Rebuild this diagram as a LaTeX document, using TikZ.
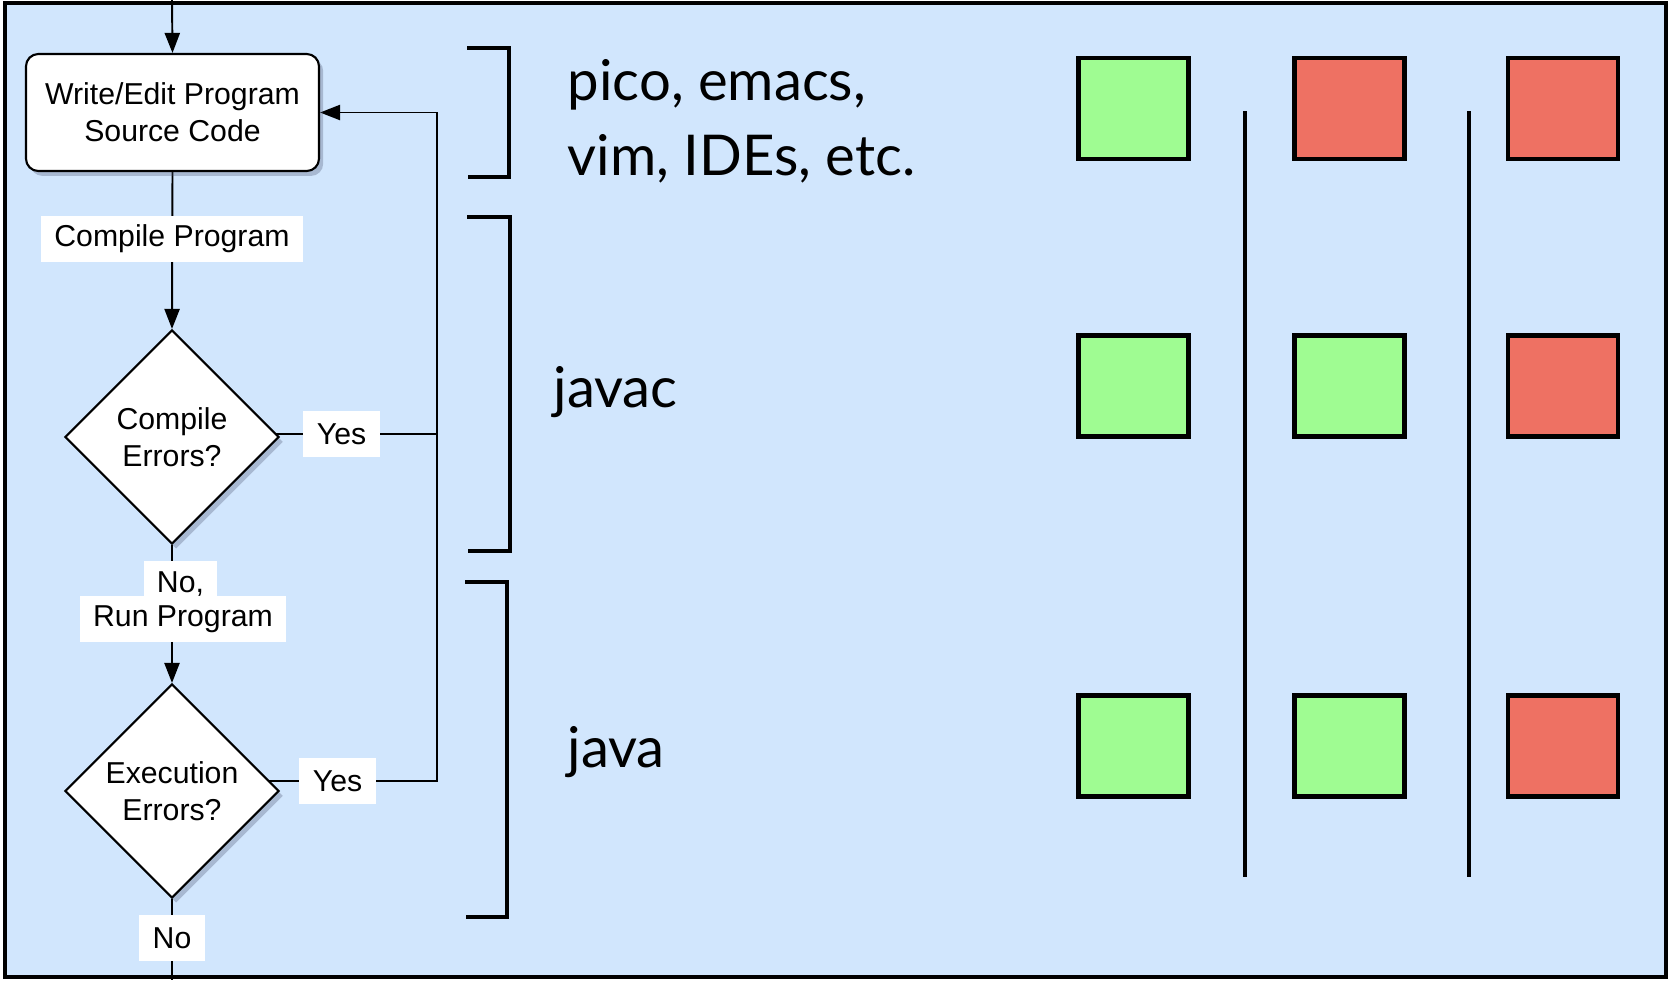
\documentclass[tikz,border=0pt]{standalone}
\usepackage{fontspec}
\setmainfont{Liberation Sans}
\newfontfamily\toolfont{Lato}
\usetikzlibrary{arrows.meta,shapes.geometric,shadows,positioning}

\definecolor{panelblue}{RGB}{209,230,253}
\definecolor{okgreen}{RGB}{159,252,146}
\definecolor{badred}{RGB}{238,113,99}
\definecolor{shadowgrey}{RGB}{70,80,110}

\pgfdeclarelayer{bg}
\pgfsetlayers{bg,main}

\tikzset{
  flow/.style={line width=0.55pt, -{Triangle[length=5.7pt,width=4.3pt]}},
  wire/.style={line width=0.55pt},
  chart/.style={font=\fontsize{8.6pt}{10.5pt}\selectfont},
  softshadow/.style={drop shadow={shadow xshift=1.2pt, shadow yshift=-1.4pt,
      fill=shadowgrey, opacity=0.3}},
  stepbox/.style={chart, draw, fill=white, line width=0.6pt, rounded corners=3.5pt,
      minimum width=29.3mm, minimum height=11.7mm, align=center, softshadow},
  test/.style={chart, diamond, draw, fill=white, line width=0.6pt, inner sep=0pt,
      minimum width=21.4mm, minimum height=21.4mm, align=center, softshadow},
  tag/.style={chart, fill=white, inner xsep=3.8pt, inner ysep=0pt, minimum height=4.6mm},
  tool/.style={font=\toolfont\fontsize{16pt}{21.3pt}\selectfont, anchor=base west,
      align=left, inner sep=0pt},
  bracket/.style={line width=1.4pt},
  result/.style={draw, line width=1.4pt, minimum width=11mm, minimum height=10.1mm, inner sep=0pt}
}

\begin{document}
\begin{tikzpicture}[x=0.1mm, y=-0.1mm]
  \useasboundingbox (0,0) rectangle (1670,980);
  \begin{pgfonlayer}{bg}
    \fill[panelblue] (5,3) rectangle (1666,977);
  \end{pgfonlayer}

  % flow chart
  \coordinate (entry) at (172,0);
  \coordinate (exit) at (172,980);
  \coordinate (loop) at (437,0);
  \node[stepbox] (write) at (172.5,112.5) {Write/Edit Program\\Source Code};
  \node[test] (d1) at (172,437) {Compile\\Errors?};
  \node[test] (d2) at (172,791) {Execution\\Errors?};
  \node[tag] (compile) at (172,239) {Compile Program};
  \node[tag] (yes1) at (341.5,434) {Yes};
  \node[tag] (nocomma) at (180.5,584) {No,};
  \node[tag] (run) at (183,619) {Run Program};
  \node[tag] (yes2) at (337.5,781) {Yes};
  \node[tag] (noexit) at (172,938) {No};

  \begin{pgfonlayer}{bg}
    \draw[flow] (entry) -- (write.north);
    \draw[flow] (write.south) -- (d1.north);
    \draw[flow] (d1.south) -- (d2.north);
    \draw[wire] (d2.south) -- (exit);
    \draw[wire] (d1.center |- yes1) -- (loop |- yes1);
    \draw[flow] (d2.center |- yes2) -- (loop |- yes2) -- (loop |- write.east) -- (write.east);
  \end{pgfonlayer}

  % brackets and tools
  \draw[bracket] (467,48) -- (509,48) -- (509,177) -- (468,177);
  \draw[bracket] (467,217) -- (510,217) -- (510,551) -- (468,551);
  \draw[bracket] (465,582) -- (507,582) -- (507,917) -- (466,917);
  \node[tool] (editors) at (567,175) {pico, emacs,\\vim, IDEs, etc.};
  \node[tool] (javac) at (553,407) {javac};
  \node[tool] (java) at (567,767) {java};

  % results
  \node[result, fill=okgreen] (s11) at (1133.5,108.5) {};
  \node[result, fill=badred]  (s12) at (1349.5,108.5) {};
  \node[result, fill=badred]  (s13) at (1563,108.5) {};
  \node[result, fill=okgreen] (s21) at (1133.5,386) {};
  \node[result, fill=okgreen] (s22) at (1349.5,386) {};
  \node[result, fill=badred]  (s23) at (1563,386) {};
  \node[result, fill=okgreen] (s31) at (1133.5,746) {};
  \node[result, fill=okgreen] (s32) at (1349.5,746) {};
  \node[result, fill=badred]  (s33) at (1563,746) {};
  \draw[line width=1.4pt] (1245,111) -- (1245,877);
  \draw[line width=1.4pt] (1469,111) -- (1469,877);

  % frame
  \draw[line width=1.4pt] (5,3) rectangle (1666,977);
\end{tikzpicture}
\end{document}
